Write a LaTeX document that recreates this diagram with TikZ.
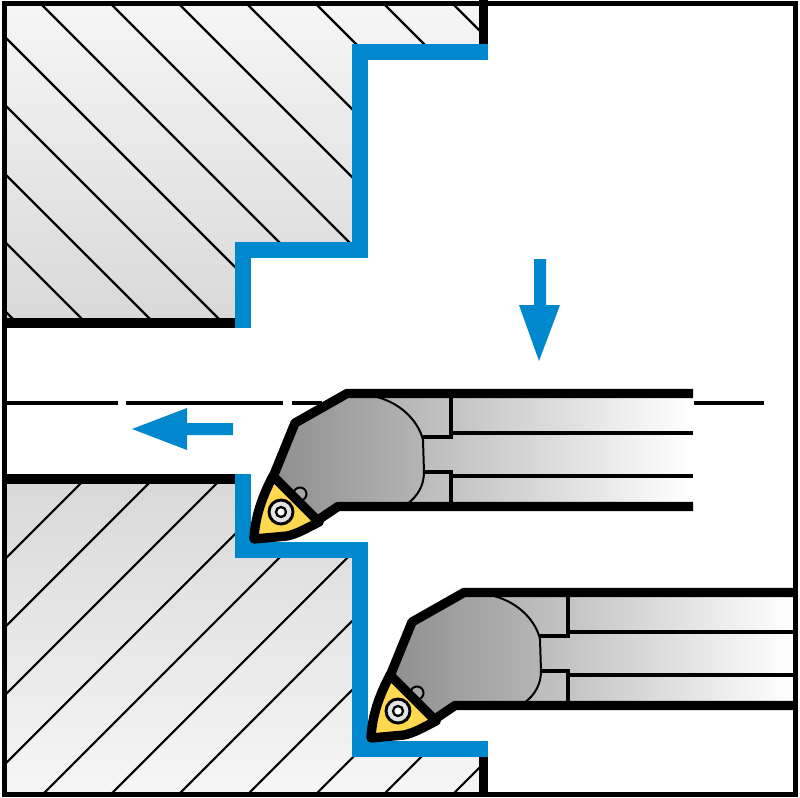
\documentclass[tikz,border=0pt]{standalone}
\usetikzlibrary{shadings}
\definecolor{cutblue}{HTML}{0088CE}
\definecolor{insertyellow}{HTML}{FFD84F}
\definecolor{worklight}{HTML}{F6F6F6}
\definecolor{workdark}{HTML}{D8D8D8}
\tikzset{
  x=0.75pt,y=-0.75pt,
  hatchline/.style={black,line width=1.6pt},
  cutline/.style={cutblue,line width=12.4pt,line join=miter,line cap=butt},
  heavy/.style={black,line width=7.5pt,line cap=butt},
  toolheavy/.style={black,line width=7pt,line join=round},
  toolthin/.style={black,line width=1.5pt},
  toolmid/.style={black,line width=2.4pt},
  centreline/.style={black,line width=3pt},
  flowarrow/.style={cutblue,draw=none},
}
\newcommand{\tooldraw}[3]{% x shift, y shift, shank right end
\begin{scope}[shift={(#1*0.75pt,-#2*0.75pt)}]
  % shank
  \shade[left color=gray!62,right color=white,shading=axis,shading angle=90]
     (375,394) rectangle (#3,506);
  % head
  \shade[left color=gray!88,right color=gray!58,shading=axis,shading angle=90]
     (273,473) -- (295,423) -- (347,395) -- (377,397)
     .. controls (403,404) and (419,423) .. (423,440)
     -- (424,472) .. controls (424,486) and (417,497) .. (407,504)
     -- (337,505) -- (315,517) -- cycle;
  % body edge
  \draw[toolthin] (377,397) .. controls (403,404) and (419,423) .. (423,440)
     -- (424,472) .. controls (424,486) and (417,497) .. (407,504);
  % shank lines
  \draw[toolmid] (423,437) -- (451,437) -- (451,395);
  \draw[toolmid] (451,433) -- (#3,433);
  \draw[toolmid] (424,472) -- (451,472) -- (451,505);
  \draw[toolmid] (451,476) -- (#3,476);
  % insert seat bump
  \draw[toolthin,fill=gray!70] (300,494) circle (6.5);
  % insert
  \draw[toolheavy,fill=insertyellow]
     (273,476) -- (319,522) .. controls (307,528) and (297,534) .. (287,536)
     -- (254,539) .. controls (255,517) and (262,497) .. (273,476) -- cycle;
  % screw
  \draw[black,line width=2.2pt,fill=gray!22] (281,512) circle (12);
  \draw[black,line width=1.7pt,fill=white] (281,512) circle (5);
  % outline
  \draw[toolheavy] (#3,393.5) -- (347,393.5) -- (295,423) -- (273,477);
  \draw[toolheavy] (318,520) -- (338,506.5) -- (#3,506.5);
\end{scope}}
\begin{document}
\begin{tikzpicture}
\useasboundingbox (0,0) rectangle (800,797);
\fill[white] (0,0) rectangle (800,797);
% upper workpiece
\begin{scope}
  \path[clip] (5,5) -- (484,5) -- (484,52) -- (360,52) -- (360,250) -- (243,250) -- (243,322) -- (5,322) -- cycle;
  \shade[top color=worklight,bottom color=workdark] (0,0) rectangle (490,325);
  \foreach \c in {-449,-380,-312,-243,-175,-107,-37,32,100,169,237,306}
    \draw[hatchline] (0,\c) -- (500,\c+500);
\end{scope}
% lower workpiece
\begin{scope}
  \path[clip] (5,478) -- (243,478) -- (243,550) -- (360,550) -- (360,749) -- (484,749) -- (484,792) -- (5,792) -- cycle;
  \shade[top color=workdark,bottom color=worklight] (0,475) rectangle (490,797);
  \foreach \c in {564,632,700,769,837,905,973,1042,1110,1178,1247}
    \draw[hatchline] (0,\c) -- (500,\c-500);
\end{scope}
% heavy outlines
\draw[heavy] (2,323) -- (236,323);
\draw[heavy] (2,479) -- (236,479);
\fill[black] (479,0) rectangle (488,46);
\fill[black] (479,756) rectangle (488,797);
% center line
\draw[centreline] (5,403) -- (118,403);
\draw[centreline] (126,403) -- (283,403);
\draw[centreline] (292,403) -- (322,403);
\draw[centreline] (694,403) -- (764,403);
% cut paths
\draw[cutline] (488,52) -- (360,52) -- (360,250) -- (243,250) -- (243,328);
\draw[cutline] (243,474) -- (243,550) -- (360,550) -- (360,749) -- (488,749);
% tools
\tooldraw{0}{0}{693}
\tooldraw{117}{199}{676}
% arrows
\fill[flowarrow] (534,259) -- (546,259) -- (546,305) -- (560,305) -- (539,361) -- (519,305) -- (534,305) -- cycle;
\fill[flowarrow] (233,423) -- (233,435) -- (187,435) -- (187,450) -- (132,429) -- (187,408) -- (187,423) -- cycle;
% frame
\draw[black,line width=4.2pt] (4.5,3.5) rectangle (795.5,794.5);
\end{tikzpicture}
\end{document}
